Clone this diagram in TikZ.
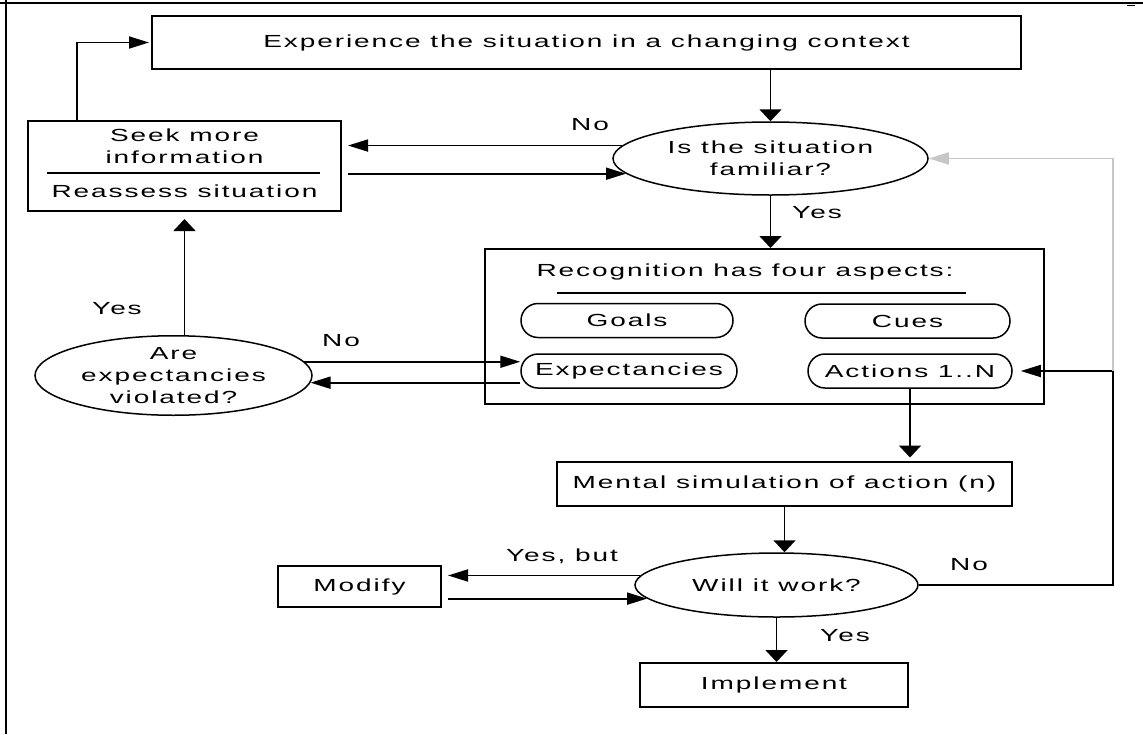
\documentclass[tikz,border=0pt]{standalone}
\usepackage{fontspec}
\setmainfont{Liberation Sans}[FakeStretch=1.6, LetterSpace=11]
\usetikzlibrary{arrows.meta, positioning, calc, shapes.geometric, shapes.misc}

\begin{document}
\begin{tikzpicture}[
    x=1pt, y=-1pt,
    every node/.style={font=\fontsize{17.5}{22}\selectfont, align=center},
    box/.style={draw, line width=2pt, inner sep=0pt},
    decision/.style={draw, ellipse, line width=1.5pt, inner sep=0pt},
    aspect/.style={draw, rounded rectangle, line width=1.5pt, inner sep=0pt, minimum height=34pt},
    label/.style={inner sep=0pt},
    line/.style={line width=1.8pt},
    harrow/.style={line, -{Triangle[length=20pt, width=12pt]}},
    varrow/.style={line, -{Triangle[length=12pt, width=22pt]}}
  ]
  \useasboundingbox (0,0) rectangle (1143,734);
  % frame
  \draw[line width=2.5pt] (0,3) -- (1143,3);
  \draw[line width=2.5pt] (6,0) -- (6,734);
  \draw[line width=1.5pt] (1127,5.5) -- (1135,5.5);

  \node[box, minimum width=869pt, minimum height=53pt] (exp) at (586.5,42.5) {Experience the situation in a changing context};
  \node[decision, minimum width=315pt, minimum height=73pt] (fam) at (770.5,158.5) {Is the situation\\familiar?};

  \node[box, minimum width=313pt, minimum height=90pt] (seek) at (184.5,166) {};
  \node (seektxt) at (184.5,146) {Seek more\\information};
  \node (reass) at (184.5,191) {Reassess situation};
  \draw[line] (47,173) -- (320,173);

  \node[box, minimum width=559pt, minimum height=155pt] (rec) at (764.5,326.5) {};
  \node (rectitle) at (745,272) {Recognition has four aspects:};
  \draw[line] (557,293) -- (966,293);
  \node[aspect, minimum width=212pt] (goals) at (627,320.5) {Goals};
  \node[aspect, minimum width=205pt] (cues) at (907.5,321) {Cues};
  \node[aspect, minimum width=216pt] (expc) at (629,371) {Expectancies};
  \node[aspect, minimum width=204pt] (act) at (910,371) {Actions 1..N};

  \node[decision, minimum width=277pt, minimum height=75pt] (are) at (173.5,375.5) {Are\\expectancies\\violated?};

  \node[box, minimum width=455pt, minimum height=44pt] (ment) at (784.5,483.5) {Mental simulation of action (n)};
  \node[decision, minimum width=283pt, minimum height=64pt] (will) at (776.5,585) {Will it work?};
  \node[box, minimum width=163pt, minimum height=41pt] (mod) at (359.5,586.5) {Modify};
  \node[box, minimum width=268pt, minimum height=44pt] (impl) at (774,685) {Implement};

  \node[label] (nofam) at (590,125) {No};
  \node[label] (yesfam) at (817,213) {Yes};
  \node[label] (yesare) at (117,309) {Yes};
  \node[label] (noare) at (341,341) {No};
  \node[label] (yesbut) at (562,556) {Yes, but};
  \node[label] (nowill) at (969,565) {No};
  \node[label] (yeswill) at (845,636) {Yes};

  \coordinate (seekup) at ([xshift=-107.5pt]seek.north);
  \coordinate (turn) at ([xshift=194pt]will.east);

  \draw[varrow] (exp.south -| fam.north) -- (fam.north);
  \draw[harrow, shorten >=6pt] (fam.175) -- (fam.175 -| seek.east);
  \draw[harrow, shorten <=6pt] (fam.186 -| seek.east) -- (fam.186);
  \draw[harrow, shorten >=2pt] (seekup) |- (exp.west);
  \draw[varrow] (fam.south) -- (fam.south |- rec.north);
  \draw[varrow, shorten >=7pt] (seek.south |- are.north) -- (seek.south);
  \draw[harrow] (are.6) -- (are.6 -| expc.west);
  \draw[harrow] (are.-3 -| expc.west) -- (are.-3);
  \draw[varrow, shorten >=3pt] (act.south) -- (act.south |- ment.north);
  \draw[varrow] (ment.south) -- (ment.south |- will.north);
  \draw[harrow, shorten >=6pt] (will.176) -- (will.176 -| mod.east);
  \draw[harrow, shorten <=6pt] (will.186 -| mod.east) -- (will.186);
  \draw[harrow, shorten >=8pt] (will.east) -- (turn) |- (act.east);
  \draw[harrow, black!22] (turn |- act.east) |- (fam.east);
  \draw[varrow] (will.south) -- (will.south |- impl.north);
\end{tikzpicture}
\end{document}
